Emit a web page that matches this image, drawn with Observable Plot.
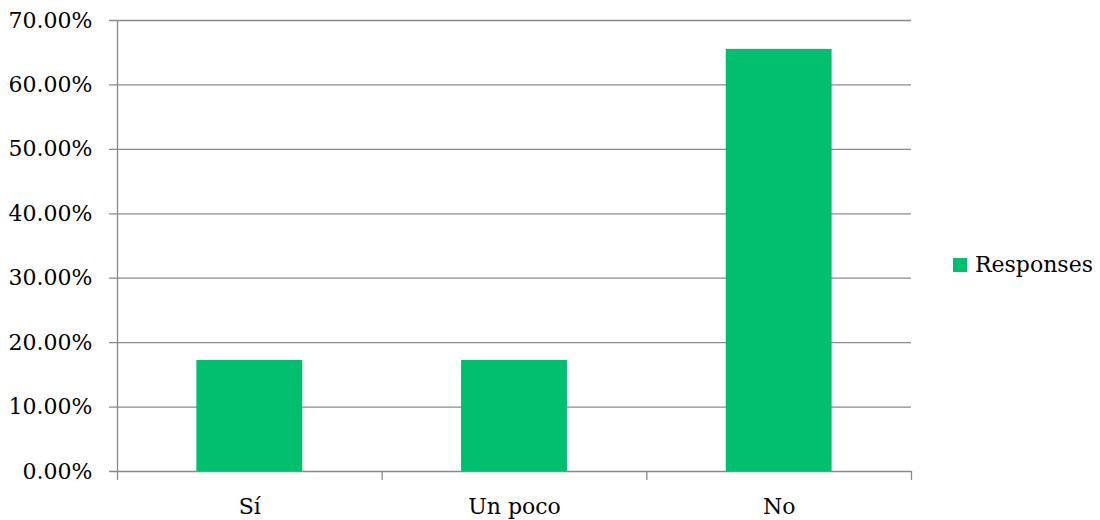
<!DOCTYPE html>
<html>
<head>
<meta charset="utf-8">
<script src="https://cdn.jsdelivr.net/npm/d3@7"></script>
<script src="https://cdn.jsdelivr.net/npm/@observablehq/plot@0.6"></script>
<style>
  html, body { margin: 0; padding: 0; background: #fff; }
  #wrap { position: relative; width: 1100px; height: 520px; font-family: "DejaVu Serif", serif; }
  #legend { position: absolute; left: 953px; top: 252px; display: flex; align-items: center; font-size: 22px; color: #000; }
  #legend .sw { width: 14px; height: 14px; background: #02BF6F; margin-right: 8px; }
</style>
</head>
<body>
<div id="wrap">
  <div id="chart"></div>
  <div id="legend"><div class="sw"></div><span>Responses</span></div>
</div>
<script>
const categories = ["Sí", "Un poco", "No"];
const values = [17.24, 17.24, 65.52];
const yTicks = [0, 10, 20, 30, 40, 50, 60, 70];
const seriesName = "Responses";

const data = categories.map((c, i) => ({category: c, index: i, value: values[i]}));
const boundaries = d3.range(categories.length + 1);
const gridColor = "#8a8a8a";

const chart = Plot.plot({
  width: 1100,
  height: 520,
  marginLeft: 117,
  marginRight: 189,
  marginTop: 20,
  marginBottom: 49,
  style: {fontFamily: "DejaVu Serif, serif", fontSize: "22px", color: "#000", background: "#fff"},
  x: {domain: [0, categories.length], axis: null},
  y: {domain: [0, 70], axis: null},
  marks: [
    Plot.ruleY(yTicks, {y: d => d, x1: 0, x2: categories.length, stroke: gridColor, strokeWidth: 1.3, insetLeft: -8}),
    Plot.axisY({ticks: yTicks, tickSize: 0, tickPadding: 25, label: null, tickFormat: d => d.toFixed(2) + "%", fontSize: 22, fill: "#000"}),
    Plot.rectY(data, {x1: d => d.index + 0.3, x2: d => d.index + 0.7, y1: 0, y2: "value", fill: "#02BF6F"}),
    Plot.ruleX([0], {y1: 0, y2: 70, stroke: gridColor, strokeWidth: 1.3}),
    Plot.axisX({ticks: boundaries, tickSize: 9, label: null, tickFormat: () => "", stroke: gridColor, strokeWidth: 1.3}),
    Plot.text(data, {x: d => d.index + 0.5, y: 0, dy: 35, text: "category", fontSize: 22, fill: "#000"})
  ]
});
document.getElementById("chart").appendChild(chart);
</script>
</body>
</html>
